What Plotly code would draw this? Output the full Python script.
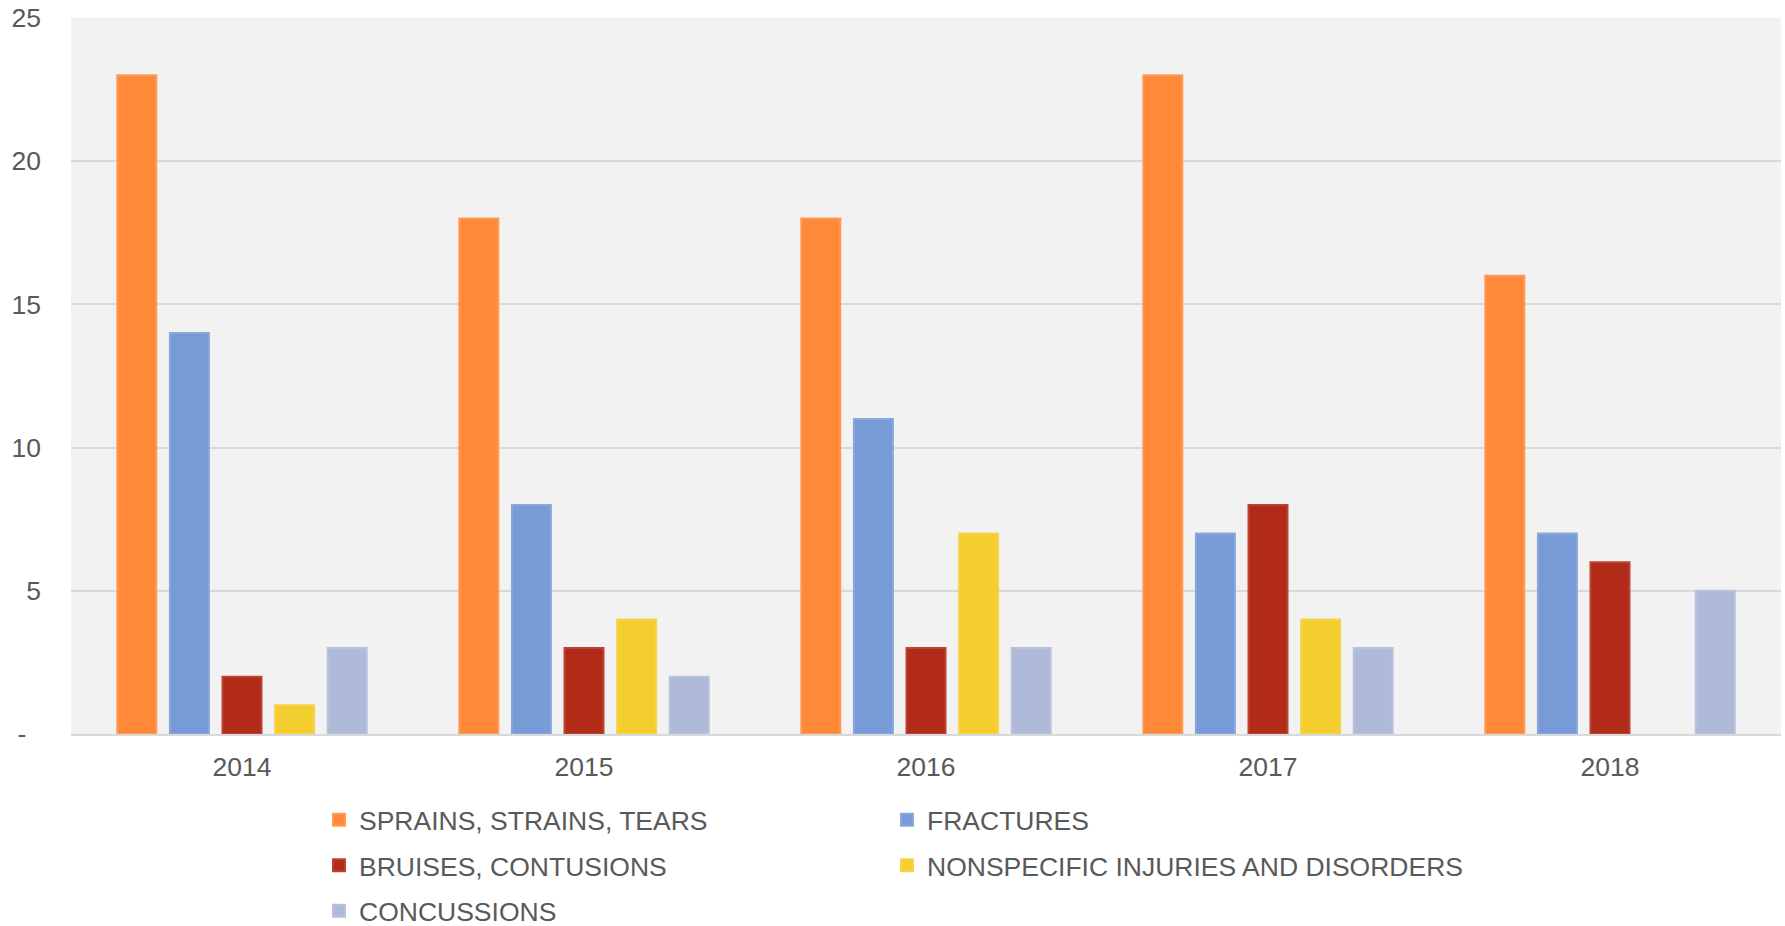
import plotly.graph_objects as go

years = ["2014", "2015", "2016", "2017", "2018"]
series_names = [
    "SPRAINS, STRAINS, TEARS",
    "FRACTURES",
    "BRUISES, CONTUSIONS",
    "NONSPECIFIC INJURIES AND DISORDERS",
    "CONCUSSIONS",
]
sprains = [23, 18, 18, 23, 16]
fractures = [14, 8, 11, 7, 7]
bruises = [2, 3, 3, 8, 6]
nonspecific = [1, 4, 7, 4, None]
concussions = [3, 2, 3, 3, 5]

y_tickvals = [0, 5, 10, 15, 20, 25]
y_ticktext = ["-\u00a0\u00a0", "5", "10", "15", "20", "25"]

colors = ["#FF8938", "#789BD8", "#B22A18", "#F4CD2E", "#AEBAD7"]
edge_colors = ["#FF9A55", "#87A7DD", "#BC4332", "#F5D34A", "#B8C2DC"]
legend_ids = ["legend", "legend2", "legend", "legend2", "legend"]
all_values = [sprains, fractures, bruises, nonspecific, concussions]

FONT = "Liberation Sans, Arial, sans-serif"
TXT = "#595959"
FS = 26.5

fig = go.Figure()
for i, (name, vals) in enumerate(zip(series_names, all_values)):
    fig.add_trace(go.Bar(
        x=years, y=vals, name=name,
        marker=dict(color=colors[i], line=dict(color=edge_colors[i], width=2)),
        legend=legend_ids[i],
        legendgroup="g%d" % i,
    ))

W, H = 1785, 926
ml, mr, mt, mb = 71, 4, 18, 192
pw = W - ml - mr
ph = H - mt - mb

def px_x(p):
    return (p - ml) / pw

def px_y(p):
    return (H - mb - p) / ph

legend_common = dict(
    orientation="v",
    xanchor="left", yanchor="top",
    font=dict(family=FONT, size=FS, color=TXT),
    bgcolor="rgba(0,0,0,0)",
    traceorder="grouped",
    tracegroupgap=8,
)

fig.update_layout(
    width=W, height=H,
    margin=dict(l=ml, r=mr, t=mt, b=mb, pad=0, autoexpand=False),
    paper_bgcolor="white",
    plot_bgcolor="#F2F2F2",
    barmode="group",
    bargap=0.231,
    bargroupgap=0.259,
    font=dict(family=FONT, size=FS, color=TXT),
    legend=dict(x=px_x(319), y=px_y(796), **legend_common),
    legend2=dict(x=px_x(887), y=px_y(796), **legend_common),
    showlegend=True,
)
fig.update_xaxes(
    automargin=False,
    showgrid=False, showline=True, linecolor="#D9D9D9", linewidth=2,
    ticks="", ticklabelstandoff=8, ticklabeloverflow="allow",
    tickfont=dict(family=FONT, size=FS, color=TXT),
)
fig.update_yaxes(
    automargin=False,
    range=[0, 25], tickvals=y_tickvals, ticktext=y_ticktext,
    showgrid=True, gridcolor="#D9D9D9", gridwidth=1.5,
    zeroline=False, showline=False, ticks="", ticklabelstandoff=29,
    ticklabeloverflow="allow",
    tickfont=dict(family=FONT, size=FS, color=TXT),
)

fig.write_html(
    "out.html",
    config={"displayModeBar": False},
    post_script="document.body.style.margin='0';document.body.style.overflow='hidden';",
)
